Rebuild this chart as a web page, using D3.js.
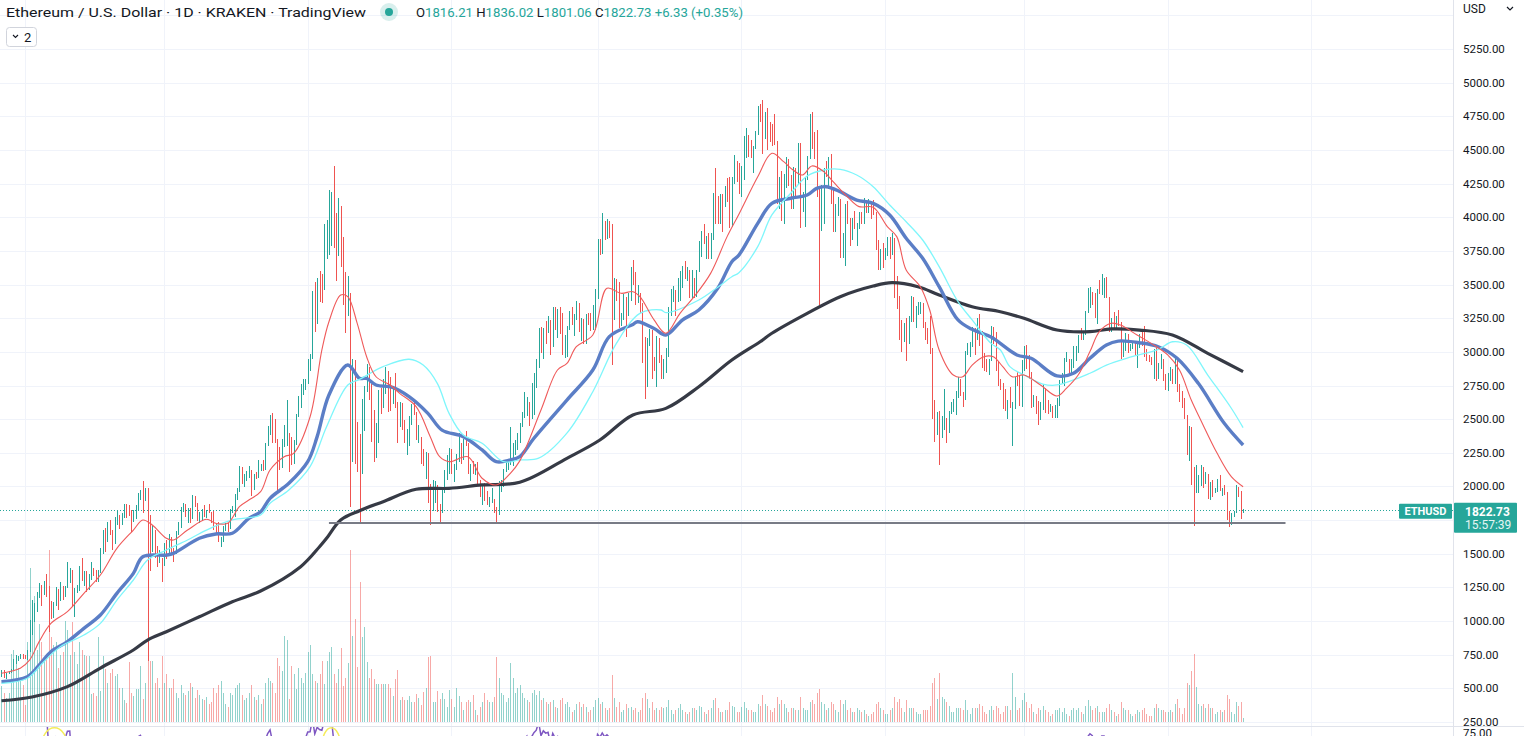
<!DOCTYPE html>
<html><head><meta charset="utf-8">
<script src="https://cdn.jsdelivr.net/npm/d3@7"></script>
<style>
body{margin:0;background:#fff;}
svg{display:block;font-family:Roboto,"Noto Sans",sans-serif;}
</style></head>
<body><svg id="c" width="1524" height="736"></svg>
<script>
// ---------------- DATA (ETH/USD, Kraken, daily) ----------------
const startDate = "2020-12-22";
const firstOpen = 612;
const close = [
635,584,612,626,635,683,731,731,752,737,
730,774,976,1041,1100,1208,1226,1224,1281,1262,1088,1048,1131,1218,1172,1233,1231,1257,1378,1380,1120,1233,1234,1392,1324,1357,1252,1331,1381,1376,1314,
1370,1512,1661,1593,1718,1677,1614,1750,1768,1744,1783,1843,1814,1803,1779,1782,1846,1937,1960,1920,1935,1780,1570,1626,1476,1446,1459,1416,
1570,1488,1575,1540,1533,1655,1725,1835,1868,1797,1825,1770,1924,1855,1793,1805,1826,1780,1810,1808,1785,1685,1670,1585,1590,1700,1715,1690,1815,1845,1920,
1970,2135,2025,2085,2110,2115,1970,2085,2070,2135,2150,2140,2300,2430,2515,2420,2350,2235,2160,2330,2355,2400,2365,2210,2315,2530,2660,2745,2755,2775,
2945,2950,3430,3250,3520,3490,3480,3900,3925,3950,4165,3820,3710,4075,3640,3580,3285,3380,2440,2780,2430,2300,2100,2640,2710,2890,2740,2420,2280,2380,2710,
2630,2705,2855,2690,2630,2710,2585,2515,2610,2470,2375,2375,2510,2590,2550,2370,2370,2230,2180,2245,1890,1875,1965,1990,1830,1815,1975,2085,2160,2275,
2110,2150,2225,2325,2195,2325,2315,2120,2150,2115,2140,2035,1940,1995,1915,1875,1895,1895,1820,1785,2000,2025,2125,2190,2190,2230,2300,2300,2385,2460,2535,
2555,2605,2505,2725,2825,2890,3155,3015,3165,3140,3165,3050,3320,3265,3310,3150,3010,3020,3185,3290,3225,3245,3325,3175,3230,3100,3275,3245,3225,3225,3435,
3830,3790,3940,3890,3955,3925,3430,3490,3425,3210,3265,3410,3290,3430,3615,3575,3400,3430,3330,2980,2765,3080,3150,2930,2925,3060,2925,2810,2850,3000,
3310,3390,3420,3380,3520,3585,3590,3560,3575,3415,3545,3490,3605,3790,3870,3825,3845,3745,3880,4155,4055,3975,4170,4085,4220,4135,3930,4285,4415,4325,4290,
4320,4590,4605,4535,4475,4520,4620,4810,4735,4640,4725,4670,4645,4625,4570,4205,4285,3990,4300,4430,4280,4095,4345,4265,4525,4040,4095,4290,4445,4630,
4585,4515,4230,4110,4195,4355,4315,4430,4115,3910,4085,4135,3780,3855,4020,3965,3880,3960,3920,3940,4020,3980,4110,4045,4100,4065,4040,3795,3630,3715,3680,
3765,3830,3765,3795,3540,3410,3195,3090,3160,3080,3240,3375,3245,3310,3330,3350,3210,3165,3095,3000,2565,2410,2540,2440,2460,2465,2425,2550,2600,2610,2690,
2790,2680,2660,2990,3020,3065,3140,3125,3240,3075,2930,2915,2880,2930,3180,3120,2885,2790,2755,2620,2575,2640,2590,2600,2780,2775,2620,2920,
2970,2950,2835,2620,2665,2555,2500,2575,2730,2605,2560,2570,2515,2590,2620,2775,2815,2945,2950,2860,2895,2970,3030,3110,3105,3145,3300,3330,3400,3385,3280,
3450,3445,3520,3520,3410,3170,3235,3190,3260,3210,2985,3030,3115,3020,3040,3065,2990,3060,3105,3075,2985,2965,2945,2920,3010,2810,2890,2935,2815,2730,
2825,2860,2780,2945,2750,2700,2640,2520,2245,2340,2080,1960,2015,2060,2140,2025,2090,1915,2015,1960,1975,2045,1970,1980,1945,1795,1725,1790,1810,1995,1940,
1816.21,1822.73];
const high = [
640,637,614,630,646,720,746,741,755,754,
749,787,1011,1155,1132,1213,1280,1266,1297,1347,1260,1148,1140,1250,1240,1288,1260,1260,1440,1395,1380,1245,1265,1410,1467,1373,1373,1347,1435,1394,1380,
1380,1540,1675,1695,1734,1750,1678,1772,1823,1788,1804,1873,1870,1863,1823,1828,1860,1950,1973,2040,1990,1990,1785,1710,1675,1560,1525,1465,
1580,1600,1650,1623,1545,1670,1735,1845,1880,1870,1840,1840,1940,1930,1875,1810,1835,1860,1825,1870,1812,1815,1720,1735,1625,1706,1730,1725,1830,1855,1945,
1990,2150,2145,2095,2115,2150,2125,2095,2105,2195,2165,2200,2320,2450,2530,2545,2500,2350,2290,2350,2460,2640,2400,2360,2345,2540,2675,2760,2795,2795,
2950,2985,3455,3520,3550,3600,3580,3950,3980,4200,4190,4380,4030,4140,4080,3855,3590,3560,3440,2950,2940,2480,2390,2650,2750,2910,2890,2760,2570,2470,2715,
2735,2800,2890,2855,2815,2745,2845,2625,2625,2620,2495,2430,2520,2615,2635,2555,2460,2370,2275,2255,2245,2015,2050,2040,2010,1870,1985,2120,2235,2285,
2275,2165,2240,2395,2325,2350,2410,2325,2170,2190,2165,2185,2050,2010,2025,1965,1925,1985,1910,1845,2040,2045,2130,2200,2200,2440,2320,2345,2400,2470,2550,
2700,2665,2630,2765,2845,2950,3175,3185,3180,3230,3270,3240,3330,3330,3320,3335,3290,3125,3195,3300,3330,3280,3375,3360,3250,3245,3280,3290,3285,3345,3470,
3840,3840,4030,3970,3990,3970,3950,3550,3540,3520,3290,3430,3400,3440,3630,3680,3595,3495,3440,3360,3110,3100,3170,3160,2960,3115,3105,2980,2950,3030,
3330,3470,3490,3460,3545,3600,3640,3675,3630,3605,3610,3545,3610,3825,3900,3950,3860,3880,3885,4180,4365,4155,4175,4175,4235,4295,4300,4300,4460,4420,4400,
4380,4600,4665,4610,4575,4530,4640,4825,4840,4870,4780,4810,4710,4690,4770,4570,4300,4345,4320,4450,4435,4315,4375,4365,4550,4550,4185,4300,4455,4770,
4780,4630,4650,4235,4240,4365,4420,4445,4470,4220,4100,4150,4135,3880,4100,4120,3995,3995,4050,3960,4040,4040,4145,4125,4135,4110,4125,4040,3830,3765,3810,
3770,3850,3850,3880,3845,3560,3415,3240,3215,3250,3265,3415,3405,3340,3370,3370,3360,3220,3180,3270,3030,2640,2550,2560,2520,2725,2510,2560,2625,2650,2710,
2815,2800,2700,3010,3065,3070,3185,3180,3255,3280,3155,2990,2945,2950,3190,3185,3150,2930,2800,2770,2725,2645,2740,2630,2815,2850,2825,2940,
3040,3050,2975,2850,2680,2670,2635,2630,2760,2730,2640,2610,2600,2605,2655,2790,2840,2955,3000,2950,2950,3040,3040,3125,3180,3155,3305,3475,3480,3445,3440,
3470,3535,3580,3545,3555,3410,3255,3295,3270,3310,3220,3080,3140,3130,3060,3080,3080,3075,3130,3170,3190,3020,2980,2960,3020,3030,2920,2985,2950,2835,
2840,2885,2870,2955,2955,2760,2710,2655,2530,2450,2445,2145,2160,2085,2160,2145,2110,2095,2035,2045,1985,2055,2085,1990,2010,1960,1820,1800,1815,2010,1995,
1965,1836.02];
const low = [
586,574,570,606,616,630,682,705,717,718,
716,714,769,895,993,1064,1170,1112,1191,1176,917,1016,1026,1112,1084,1150,1160,1180,1245,1285,1105,1030,1205,1226,1300,1263,1218,1227,1305,1336,1290,
1288,1358,1500,1511,1590,1640,1526,1570,1715,1684,1717,1763,1767,1780,1660,1735,1760,1818,1900,1800,1895,700,1370,1515,1465,1400,1430,1290,
1412,1460,1480,1505,1440,1500,1640,1690,1810,1770,1730,1725,1755,1850,1740,1730,1740,1775,1765,1800,1730,1680,1650,1585,1550,1586,1670,1665,1685,1800,1770,
1900,1960,2015,1995,2040,2060,1930,1970,2055,2060,2115,2115,2125,2300,2385,2320,2325,1950,2120,2140,2295,2300,2110,2160,2165,2305,2515,2580,2680,2715,
2760,2855,2950,3150,3210,3370,3360,3460,3690,3720,3790,3775,3530,3710,3630,3350,3140,3265,1850,2180,2170,2110,1730,2090,2410,2700,2640,2330,2180,2210,2320,
2540,2580,2685,2555,2560,2615,2580,2320,2440,2420,2320,2230,2300,2460,2530,2345,2320,2165,2150,2055,1880,1710,1820,1880,1810,1720,1800,1950,2045,2095,
2090,2030,2120,2185,2170,2195,2300,2090,2040,2090,2085,2005,1920,1860,1890,1860,1850,1880,1800,1720,1785,1960,1995,2105,2120,2160,2150,2230,2270,2320,2440,
2510,2520,2450,2500,2530,2730,2880,2995,2945,3060,3140,2980,3035,3160,3100,3130,2980,2955,2960,3160,3200,3120,3235,3150,3080,3060,3060,3200,3155,3165,3165,
3390,3720,3725,3830,3840,3845,2900,3240,3375,3175,3190,3240,3110,3265,3380,3500,3350,3360,3290,2920,2650,2740,3040,2800,2860,2740,2920,2800,2800,2845,
2960,3270,3370,3265,3370,3380,3475,3540,3530,3400,3400,3400,3405,3595,3705,3800,3690,3690,3690,3830,3950,3950,3950,3890,4075,4110,3920,3930,4250,4265,4170,
4150,4280,4440,4450,4440,4330,4510,4610,4705,4470,4580,4500,4560,4530,4540,4100,4065,3975,3950,4220,4230,4060,4060,4160,4240,3920,4040,3930,4280,4430,
4510,4430,4150,3350,3900,3950,4300,4210,4100,3890,3890,4010,3700,3700,3640,3950,3785,3830,3910,3790,3915,3950,3950,4030,4035,3990,4020,3755,3610,3605,3620,
3680,3715,3690,3720,3400,3320,3085,3000,3070,2930,3060,3220,3220,3180,3275,3280,3180,3085,3055,2985,2500,2330,2385,2160,2360,2420,2325,2400,2535,2550,2530,
2660,2670,2590,2640,2980,2960,3035,2980,3090,3040,2880,2860,2850,2830,2930,3060,2860,2750,2720,2575,2560,2500,2580,2300,2575,2750,2600,2590,
2860,2870,2800,2580,2590,2540,2455,2490,2570,2545,2540,2550,2505,2505,2510,2600,2760,2750,2925,2840,2830,2880,2935,2990,3085,3090,3125,3290,3325,3345,3255,
3210,3430,3420,3400,3400,3150,3150,3170,3170,3190,2950,2960,3010,2990,3010,3020,2980,2880,3030,3040,2960,2930,2925,2905,2795,2780,2795,2870,2780,2720,
2710,2780,2760,2760,2700,2630,2580,2500,2230,2190,2010,1705,1950,1950,2000,1990,2015,1910,1900,1925,1950,1960,1965,1930,1940,1750,1700,1715,1770,1805,1920,
1760,1801.06];
const volume = [
37,30,25,30,70,74,67,55,45,38,
17,82,157,99,129,74,100,82,65,70,176,87,79,82,55,69,72,103,94,69,102,72,59,82,74,69,67,67,29,30,27,
87,32,67,54,40,50,54,47,49,35,35,22,19,61,30,27,34,34,57,24,40,114,62,62,40,45,35,68,
40,49,35,35,44,30,25,38,30,28,32,40,36,25,33,28,24,22,26,18,20,35,30,38,42,30,18,15,30,28,35,
38,40,28,22,25,30,38,26,22,28,18,24,40,45,42,40,30,65,57,52,88,84,24,57,49,34,55,45,40,50,
72,79,49,42,40,49,62,39,62,72,77,49,40,54,76,37,45,60,176,88,105,56,143,87,97,61,45,54,44,39,39,
39,39,39,39,35,27,44,53,22,26,22,22,27,20,20,29,25,17,31,35,66,67,20,20,32,24,30,24,15,33,
24,15,35,27,20,12,20,22,20,28,12,7,15,20,30,22,20,20,26,66,45,30,28,20,25,60,45,30,35,38,30,
25,22,20,30,33,28,32,22,25,20,18,20,22,15,14,22,25,18,20,15,10,12,18,20,15,18,15,10,12,15,22,
25,18,20,14,12,14,48,25,15,20,10,12,18,14,15,12,14,10,12,25,30,24,14,20,12,14,12,15,14,15,
22,12,8,12,14,18,12,10,8,10,14,14,12,16,15,10,8,12,14,22,25,14,10,10,12,12,20,16,15,10,10,
15,20,14,12,12,10,10,18,16,28,18,16,12,10,14,26,18,22,18,14,10,14,14,12,12,26,14,12,12,20,
22,18,30,34,20,18,12,14,20,18,12,10,22,18,22,12,14,10,10,14,12,10,12,8,6,8,10,18,20,14,12,
8,8,12,14,26,20,24,14,10,22,14,14,14,10,8,8,12,12,12,16,40,45,24,50,26,24,20,16,10,10,14,
14,14,12,22,12,8,14,14,14,18,16,10,8,12,16,12,16,14,8,10,16,16,12,50,26,12,14,22,
30,20,14,18,10,8,14,12,16,12,10,6,8,12,12,14,10,14,8,6,12,14,12,14,10,8,16,22,16,12,14,
16,10,10,10,14,18,12,10,6,8,20,14,12,12,8,6,8,12,10,12,14,8,6,6,14,18,14,12,12,10,
10,12,10,18,24,14,8,14,40,38,52,70,36,18,16,18,14,18,14,14,8,10,12,10,12,28,24,10,8,20,16,
20,4];

// moving-average lines: [days after maBaseDate, price]
const maBaseDate = "2021-01-01";
const maBlack = [[-10,408],[3,436],[18,513],[32,651],[46,785],[52,859],[60,921],[74,1032],[88,1144],[100,1223],[117,1404],[125,1552],[128,1615],[134,1751],[142,1820],[152,1887],[166,1979],[180,1986],[194,2011],[210,2031],[230,2209],[244,2345],[258,2531],[272,2580],[286,2741],[300,2939],[312,3075],[317,3138],[332,3286],[346,3410],[360,3489],[368,3514],[379,3484],[388,3422],[402,3335],[414,3298],[424,3249],[438,3162],[452,3150],[461,3170],[473,3162],[487,3125],[502,2989],[517,2853]];
const maBlue = [[-10,550],[1,587],[6,673],[11,772],[18,847],[25,946],[32,1045],[39,1206],[46,1354],[50,1478],[60,1490],[63,1503],[74,1615],[81,1647],[88,1652],[95,1763],[100,1812],[104,1912],[112,2023],[120,2184],[124,2370],[129,2679],[137,2902],[142,2803],[145,2803],[149,2754],[156,2736],[163,2667],[171,2543],[177,2419],[186,2370],[194,2271],[200,2184],[206,2197],[210,2221],[216,2358],[230,2642],[241,2865],[248,3113],[258,3204],[260,3224],[267,3174],[272,3125],[279,3236],[286,3311],[294,3472],[300,3670],[303,3719],[311,3955],[317,4103],[325,4141],[332,4165],[336,4215],[340,4227],[346,4190],[353,4128],[360,4103],[367,4017],[374,3844],[381,3695],[388,3484],[396,3237],[402,3167],[410,3110],[421,2977],[427,2952],[438,2821],[445,2841],[452,2952],[459,3051],[464,3080],[473,3068],[481,3038],[489,2952],[498,2766],[509,2469],[517,2308]];
const maCyan = [[-10,537],[1,575],[8,698],[15,809],[25,896],[32,983],[39,1156],[46,1305],[52,1453],[60,1528],[69,1602],[77,1676],[88,1751],[100,1788],[104,1875],[112,1974],[121,2147],[128,2444],[137,2754],[142,2796],[152,2890],[163,2945],[169,2902],[175,2766],[180,2543],[186,2382],[194,2321],[203,2184],[210,2197],[218,2210],[230,2396],[241,2704],[251,3063],[261,3286],[270,3311],[272,3291],[286,3385],[294,3480],[300,3558],[303,3588],[311,3782],[317,4017],[325,4178],[332,4306],[339,4351],[346,4356],[353,4314],[360,4227],[367,4091],[374,3967],[381,3831],[388,3633],[396,3373],[402,3237],[410,3063],[414,3014],[418,2890],[424,2828],[432,2761],[438,2754],[452,2841],[459,2902],[469,2960],[481,3019],[487,3075],[493,3051],[502,2828],[512,2581],[517,2437]];
const maRed = [[-10,612],[-2,649],[2,711],[6,847],[11,983],[18,1070],[25,1206],[32,1342],[39,1540],[46,1676],[50,1751],[54,1714],[60,1615],[63,1602],[69,1676],[77,1756],[81,1726],[86,1726],[91,1850],[95,1899],[100,1961],[104,2122],[110,2221],[114,2246],[121,2518],[126,3014],[129,3224],[134,3422],[137,3410],[141,3212],[145,2964],[149,2815],[155,2754],[159,2692],[166,2593],[172,2370],[176,2221],[180,2184],[188,2221],[194,2061],[200,2011],[206,2098],[210,2190],[219,2568],[226,2865],[230,2914],[234,3038],[241,3125],[247,3472],[253,3435],[258,3447],[261,3410],[267,3237],[272,3138],[278,3286],[284,3410],[291,3583],[298,3856],[303,4023],[311,4301],[317,4475],[322,4413],[326,4351],[330,4314],[334,4381],[339,4339],[343,4264],[349,4153],[354,4079],[360,4074],[366,3930],[370,3856],[374,3608],[380,3484],[384,3311],[388,3014],[394,2828],[398,2815],[402,2902],[407,2964],[411,2964],[415,2890],[419,2815],[424,2828],[431,2754],[438,2672],[442,2729],[447,2828],[452,3002],[456,3150],[461,3212],[465,3199],[472,3125],[478,3063],[485,2977],[490,2865],[495,2642],[499,2494],[506,2246],[512,2073],[517,1998]];

const priceTicks = [250,500,750,1000,1250,1500,1750,2000,2250,2500,2750,3000,3250,3500,3750,4000,4250,4500,4750,5000,5250];
const supportLine = {level:1729, from:"2021-05-10", to:"2022-06-20"};
const lastPrice = 1822.73, countdown = "15:57:39";
const legend = {title:"Ethereum / U.S. Dollar · 1D · KRAKEN · TradingView", o:"1816.21", h:"1836.02", l:"1801.06", c:"1822.73", chg:"+6.33 (+0.35%)"};
const rsiMarks = [{from:"2021-01-08", to:"2021-01-19"},{from:"2021-05-07", to:"2021-05-15"}];

// ---------------- CHART ----------------
const svg = d3.select("#c");
const PR = 1453, MB = 726;
const parse = d3.utcParse("%Y-%m-%d");
const start = parse(startDate), maBase = parse(maBaseDate);
const x = d3.scaleUtc().domain([parse("2021-01-01"), parse("2022-05-01")]).range([25, 1167.7]);
const y = d3.scaleLinear().domain([250, 5250]).range([722, 49]);
const yv = d3.scaleLinear().domain([0, 180]).range([722, 546]);
const yr = d3.scaleLinear().domain([75, 85]).range([731, 715]);
const UP = "#26a69a", DN = "#ef5350";

const n = close.length;
const bars = close.map((c, i) => {
  const o = i === 0 ? firstOpen : close[i-1];
  return {date: d3.utcDay.offset(start, i), o, c,
    h: Math.max(high[i], o, c), l: Math.min(low[i], o, c), v: volume[i], up: c >= o};
});

const defs = svg.append("defs");
defs.append("clipPath").attr("id","mainClip").append("rect").attr("x",0).attr("y",0).attr("width",PR).attr("height",MB);
defs.append("clipPath").attr("id","rsiClip").append("rect").attr("x",0).attr("y",MB+0.5).attr("width",PR).attr("height",736-MB);
defs.append("clipPath").attr("id","axisClip").append("rect").attr("x",PR).attr("y",0).attr("width",1524-PR).attr("height",MB);

// grid
const gx = x.copy().domain([x.invert(0), x.invert(PR)]);
const vDates = gx.ticks(d3.utcMonth.every(2));
const grid = svg.append("g").attr("shape-rendering","crispEdges");
grid.selectAll(".vg").data(vDates).join("line")
  .attr("x1", d => Math.round(x(d))+0.5).attr("x2", d => Math.round(x(d))+0.5)
  .attr("y1", 0).attr("y2", 736).attr("stroke", "#f0f3fa");
grid.selectAll(".hg").data(priceTicks.concat([5500])).join("line")
  .attr("x1", 0).attr("x2", PR).attr("y1", d => Math.round(y(d))+0.5).attr("y2", d => Math.round(y(d))+0.5)
  .attr("stroke", "#f0f3fa");

const main = svg.append("g").attr("clip-path","url(#mainClip)");
// volume
main.append("g").attr("shape-rendering","crispEdges").selectAll("line").data(bars).join("line")
  .attr("x1", d => Math.round(x(d.date))+0.5).attr("x2", d => Math.round(x(d.date))+0.5)
  .attr("y1", yv(0)).attr("y2", d => yv(d.v))
  .attr("stroke", d => d.up ? "rgba(38,166,154,0.5)" : "rgba(239,83,80,0.5)").attr("stroke-width", 1);

// last price dotted line
main.append("line").attr("x1",0).attr("x2",PR).attr("y1",Math.round(y(lastPrice))+0.5).attr("y2",Math.round(y(lastPrice))+0.5)
  .attr("stroke",UP).attr("stroke-dasharray","1,2").attr("shape-rendering","crispEdges");

// candles
main.append("g").attr("shape-rendering","crispEdges").selectAll("line").data(bars).join("line")
  .attr("x1", d => Math.round(x(d.date))+0.5).attr("x2", d => Math.round(x(d.date))+0.5)
  .attr("y1", d => y(d.h)).attr("y2", d => y(d.l))
  .attr("stroke", d => d.up ? UP : DN).attr("stroke-width", 1);

// moving averages
const line = d3.line().x(p => x(d3.utcDay.offset(maBase, p[0]))).y(p => y(p[1])).curve(d3.curveCatmullRom.alpha(0.5));
main.append("path").attr("d", line(maBlack)).attr("fill","none").attr("stroke","#363a45").attr("stroke-width",3.2).attr("stroke-linejoin","round");
main.append("path").attr("d", line(maBlue)).attr("fill","none").attr("stroke","#5b7ec6").attr("stroke-width",3.4).attr("stroke-linejoin","round");
main.append("path").attr("d", line(maCyan)).attr("fill","none").attr("stroke","#7ff6fb").attr("stroke-width",1.3);
main.append("path").attr("d", line(maRed)).attr("fill","none").attr("stroke","#ef5a5a").attr("stroke-width",1.1);

// support line
main.append("line").attr("x1", x(parse(supportLine.from))).attr("x2", x(parse(supportLine.to)))
  .attr("y1", y(supportLine.level)).attr("y2", y(supportLine.level))
  .attr("stroke","#787b86").attr("stroke-width",2);

// RSI pane (lower pane, mostly off-screen)
const rsi = new Array(n).fill(null);
let ag = 0, al = 0;
for (let i = 1; i < n; i++) {
  const ch = close[i] - close[i-1], g = Math.max(ch,0), l = Math.max(-ch,0);
  if (i <= 14) { ag += g/14; al += l/14; if (i === 14) rsi[i] = 100 - 100/(1+ag/al); }
  else { ag = (ag*13+g)/14; al = (al*13+l)/14; rsi[i] = 100 - 100/(1+ag/al); }
}
const rsiG = svg.append("g").attr("clip-path","url(#rsiClip)");
rsiG.append("path").datum(bars.map((b,i)=>({date:b.date, r:rsi[i]})))
  .attr("d", d3.line().defined(d => d.r !== null).x(d => x(d.date)).y(d => yr(d.r)))
  .attr("fill","none").attr("stroke","#7e57c2").attr("stroke-width",1.5);
rsiG.selectAll("ellipse").data(rsiMarks).join("ellipse")
  .attr("cx", d => (x(parse(d.from)) + x(parse(d.to)))/2)
  .attr("rx", d => (x(parse(d.to)) - x(parse(d.from)))/2)
  .attr("cy", yr(65)).attr("ry", yr(65) - yr(77))
  .attr("fill","none").attr("stroke","#f5ec5b").attr("stroke-width",1.5);

// pane separators
svg.append("line").attr("x1",0).attr("x2",1524).attr("y1",MB+0.5).attr("y2",MB+0.5).attr("stroke","#e0e3eb").attr("shape-rendering","crispEdges");
svg.append("line").attr("x1",PR+0.5).attr("x2",PR+0.5).attr("y1",0).attr("y2",736).attr("stroke","#e0e3eb").attr("shape-rendering","crispEdges");

// price axis (labels hidden behind the last-price box are skipped, as on the reference)
const fmt = d3.format(".2f");
const ly = y(lastPrice);
const ax = svg.append("g").attr("font-size","11.5px").attr("fill","#131722").attr("clip-path","url(#axisClip)");
ax.selectAll("text").data(priceTicks.filter(d => Math.abs(y(d) - (ly + 7.5)) > 20)).join("text")
  .attr("x",1463).attr("y", d => y(d)).attr("dy","0.35em").text(d => fmt(d));
svg.append("text").attr("x",1463).attr("y",737).attr("font-size","11.5px").attr("fill","#131722").text(fmt(75));
svg.append("text").attr("x",1463).attr("y",13).attr("font-size","12px").attr("fill","#131722").text("USD");
svg.append("path").attr("d","M1507,7 l3,3 l3,-3").attr("fill","none").attr("stroke","#131722").attr("stroke-width",1.2);

// last price label on axis
svg.append("rect").attr("x",PR+1).attr("y",ly-7.5).attr("width",63).attr("height",30).attr("fill",UP).attr("rx",1);
svg.append("text").attr("x",1465).attr("y",ly+6).attr("font-size","12px").attr("font-weight","bold").attr("fill","#fff").text(fmt(lastPrice));
svg.append("text").attr("x",1465).attr("y",ly+19).attr("font-size","12px").attr("fill","#e6f5f3").text(countdown);
svg.append("rect").attr("x",1399).attr("y",ly-6.5).attr("width",53).attr("height",15).attr("fill",UP).attr("rx",1);
svg.append("text").attr("x",1425.5).attr("y",ly+5).attr("text-anchor","middle").attr("font-size","11px").attr("font-weight","bold").attr("fill","#fff").text("ETHUSD");

// legend
svg.append("text").attr("x",6).attr("y",17).attr("font-size","13.5px").attr("fill","#131722")
  .attr("textLength",360).attr("lengthAdjust","spacingAndGlyphs").text(legend.title);
svg.append("circle").attr("cx",389).attr("cy",12).attr("r",9).attr("fill",UP).attr("opacity",0.18);
svg.append("circle").attr("cx",389).attr("cy",12).attr("r",4).attr("fill",UP);
const ohlc = svg.append("text").attr("x",416).attr("y",17).attr("font-size","13px")
  .attr("textLength",327).attr("lengthAdjust","spacingAndGlyphs");
[["O","#131722"],[legend.o,UP],[" H","#131722"],[legend.h,UP],[" L","#131722"],[legend.l,UP],[" C","#131722"],[legend.c,UP],[" "+legend.chg,UP]]
  .forEach(([t,c]) => ohlc.append("tspan").attr("fill",c).text(t));
svg.append("rect").attr("x",6.5).attr("y",27.5).attr("width",30).attr("height",19).attr("rx",3).attr("fill","#fff").attr("stroke","#d1d4dc");
svg.append("path").attr("d","M13,35 l2.5,2.5 l2.5,-2.5").attr("fill","none").attr("stroke","#131722").attr("stroke-width",1.1);
svg.append("text").attr("x",24).attr("y",42).attr("font-size","13px").attr("fill","#131722").text("2");
</script>
</body></html>
